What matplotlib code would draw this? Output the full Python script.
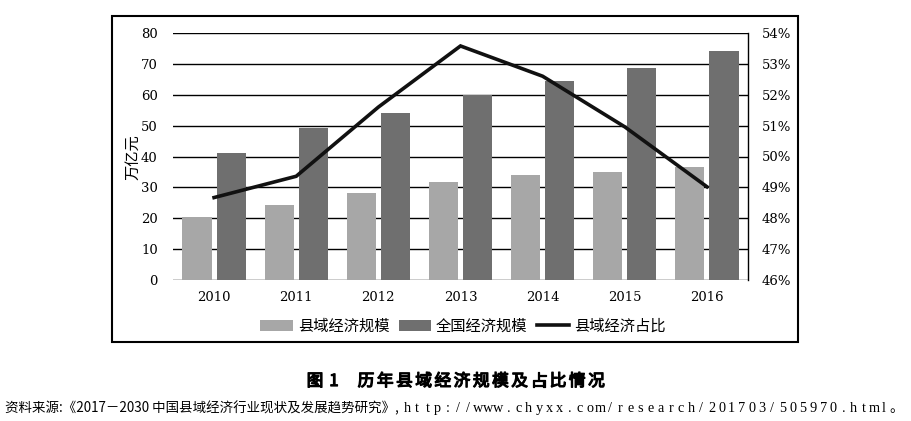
import matplotlib
matplotlib.use("Agg")
import matplotlib.pyplot as plt
import matplotlib.patheffects as pe
from matplotlib.patches import Rectangle, Patch
from matplotlib.lines import Line2D
import numpy as np

years = ["2010", "2011", "2012", "2013", "2014", "2015", "2016"]
county_scale = [20.3, 24.2, 28.2, 31.9, 33.9, 34.9, 36.6]
national_scale = [41.2, 49.1, 54.0, 59.8, 64.6, 68.8, 74.3]
county_share = [48.67, 49.36, 51.6, 53.58, 52.6, 50.96, 49.02]
left_ticks = [0, 10, 20, 30, 40, 50, 60, 70, 80]
right_ticks = [46, 47, 48, 49, 50, 51, 52, 53, 54]
series_names = ["县域经济规模", "全国经济规模", "县域经济占比"]
y_label = "万亿元"
caption_no = ["图", "1"]
caption_title = "历年县域经济规模及占比情况"
source_a = "资料来源:《2017－2030 中国县域经济行业现状及发展趋势研究》,"
source_b = "http://www.chyxx.com/research/201703/505970.html"
source_end = "。"

W, H = 912, 421
fig = plt.figure(figsize=(W / 100, H / 100), dpi=100)
fig.patch.set_facecolor("white")

num_font = ["DejaVu Serif", "Noto Sans CJK SC"]
cjk_font = ["Noto Sans CJK SC", "DejaVu Sans"]

ax = fig.add_axes([173 / W, 1 - 280 / H, (748 - 173) / W, (280 - 33) / H])
x = np.arange(len(years))
bw = 0.355
gap = 0.06
c_light = "#a7a7a7"
c_dark = "#6f6f6f"
ax.bar(x - (bw + gap) / 2, county_scale, bw, color=c_light, zorder=3)
ax.bar(x + (bw + gap) / 2, national_scale, bw, color=c_dark, zorder=3)
ax.set_xlim(-0.5, len(years) - 0.5)
ax.set_ylim(0, 80)
ax.set_yticks(left_ticks)
ax.set_yticklabels([str(v) for v in left_ticks], fontfamily=num_font, fontsize=9.5)
ax.set_xticks(x)
ax.set_xticklabels(years, fontfamily=num_font, fontsize=9.5)
ax.tick_params(axis="both", length=0)
ax.tick_params(axis="y", pad=11)
ax.tick_params(axis="x", pad=8)
ax.grid(axis="y", color="black", linewidth=1.0, zorder=0)
ax.set_axisbelow(True)
for s in ["left", "top", "bottom", "right"]:
    ax.spines[s].set_visible(False)

ax2 = ax.twinx()
ax2.plot(x, county_share, color="#111111", linewidth=2.6, zorder=5, solid_joinstyle="miter")
ax2.set_ylim(46, 54)
ax2.set_yticks(right_ticks)
ax2.set_yticklabels([f"{v}%" for v in right_ticks], fontfamily=num_font, fontsize=9.5)
ax2.tick_params(axis="y", length=0, pad=10)
for s in ["left", "top", "bottom"]:
    ax2.spines[s].set_visible(False)
ax2.spines["right"].set_color("black")
ax2.spines["right"].set_linewidth(1.0)

fig.text(133 / W, 1 - 157 / H, y_label, rotation=90, ha="center", va="center",
         fontfamily=cjk_font, fontsize=11)

# outer frame
fig.add_artist(Rectangle((112 / W, 1 - 342 / H), (798 - 112) / W, (342 - 16) / H,
                         transform=fig.transFigure, fill=False, edgecolor="black",
                         linewidth=1.5))

handles = [Patch(facecolor=c_light, edgecolor="none"),
           Patch(facecolor=c_dark, edgecolor="none"),
           Line2D([0], [0], color="#111111", linewidth=2.6)]
fig.legend(handles, series_names, loc="center", bbox_to_anchor=(463 / W, 1 - 326 / H),
           ncol=3, frameon=False, prop={"family": cjk_font, "size": 11},
           handlelength=2.1, handleheight=0.7, handletextpad=0.35, columnspacing=0.6,
           borderpad=0, borderaxespad=0)

# caption with wide tracking, bolded by a thin stroke
cap_y = 1 - 386 / H
bold_fx = [pe.withStroke(linewidth=0.9, foreground="black")]
fig.text(315 / W, cap_y, caption_no[0], ha="center", va="baseline",
         fontfamily=cjk_font, fontsize=12, fontweight="medium", path_effects=bold_fx)
fig.text(334 / W, cap_y, caption_no[1], ha="center", va="baseline",
         fontfamily=cjk_font, fontsize=12, fontweight="medium", path_effects=bold_fx)
for i, ch in enumerate(caption_title):
    fig.text((366 + i * 19.2) / W, cap_y, ch, ha="center", va="baseline",
             fontfamily=cjk_font, fontsize=12, fontweight="medium", path_effects=bold_fx)

# source line: CJK part, then fixed-pitch half-width URL like the reference typesetting
src_y = 1 - 412 / H
fig.text(5 / W, src_y, source_a, ha="left", va="baseline",
         fontfamily=["Noto Sans CJK SC", "DejaVu Serif"], fontsize=9.7)
pitch = 10.15
for i, ch in enumerate(source_b):
    fig.text((407 + i * pitch) / W, src_y, ch, ha="center", va="baseline",
             fontfamily=["Liberation Serif", "Noto Sans CJK SC"], fontsize=10.3)
fig.text((402 + len(source_b) * pitch) / W, src_y, source_end, ha="left", va="baseline",
         fontfamily=cjk_font, fontsize=10)

fig.savefig("out.png", dpi=100, facecolor="white")
